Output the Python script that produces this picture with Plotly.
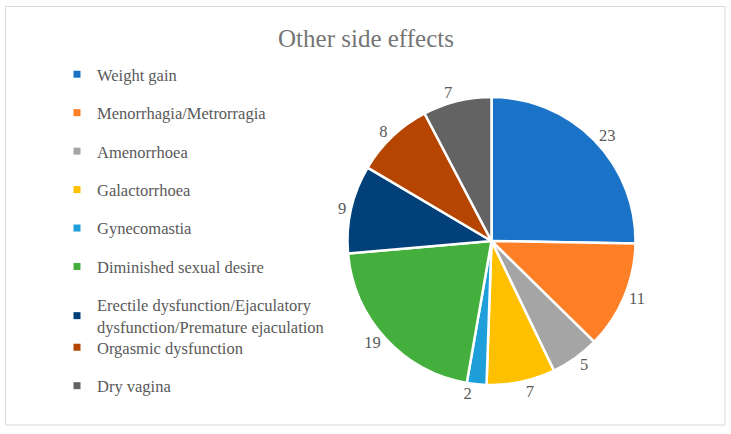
import plotly.graph_objects as go

categories = ["Weight gain", "Menorrhagia/Metrorragia", "Amenorrhoea", "Galactorrhoea",
              "Gynecomastia", "Diminished sexual desire",
              "Erectile dysfunction/Ejaculatory<br>dysfunction/Premature ejaculation",
              "Orgasmic dysfunction", "Dry vagina"]
values = [23, 11, 5, 7, 2, 19, 9, 8, 7]
colors = ["#1B73C8", "#FF7F27", "#A5A5A5", "#FFC000", "#1E9FDA",
          "#44AF3C", "#02407A", "#B54500", "#636363"]

W, H = 731, 434
FONT = "Liberation Serif"
TXT = "#595959"

fig = go.Figure()
cx, cy, r = 491.5, 241, 144
fig.add_trace(go.Pie(
    labels=categories, values=values, sort=False, direction="clockwise", rotation=0,
    marker=dict(colors=colors, line=dict(color="white", width=2.5)),
    textinfo="value", textposition="outside",
    textfont=dict(family=FONT, size=16.5, color=TXT),
    showlegend=False, automargin=False,
    domain=dict(x=[(cx - r) / W, (cx + r) / W], y=[1 - (cy + r) / H, 1 - (cy - r) / H]),
    hoverinfo="label+value",
))

for i, (c, col) in enumerate(zip(categories, colors)):
    fig.add_trace(go.Scatter(
        x=[None], y=[None], mode="markers", name=c,
        marker=dict(symbol="square", size=7, color=col),
        legendgroup=f"g{i}", showlegend=True,
        legend="legend" if i < 7 else "legend2",
    ))

leg_common = dict(xanchor="left", yanchor="top", font=dict(family=FONT, size=16.5, color=TXT),
                  tracegroupgap=14, itemwidth=30, bgcolor="rgba(0,0,0,0)")

fig.update_layout(
    width=W, height=H,
    margin=dict(l=0, r=0, t=0, b=0, autoexpand=False),
    paper_bgcolor="white", plot_bgcolor="white",
    title=dict(text="Other side effects", x=366 / W, xanchor="center", y=1 - 38 / H, yanchor="middle",
               font=dict(family=FONT, size=25, color="#757575")),
    xaxis=dict(visible=False), yaxis=dict(visible=False),
    legend=dict(x=57 / W, y=1 - 57 / H, **leg_common),
    legend2=dict(x=57 / W, y=1 - 330 / H, **leg_common),
    shapes=[dict(type="rect", xref="paper", yref="paper",
                 x0=5.5 / W, x1=725 / W, y0=1 - 425 / H, y1=1 - 6.5 / H,
                 line=dict(color="#D9D9D9", width=1))],
)

fig.write_html("out.html", config={"displayModeBar": False},
               post_script="document.body.style.margin='0';")
